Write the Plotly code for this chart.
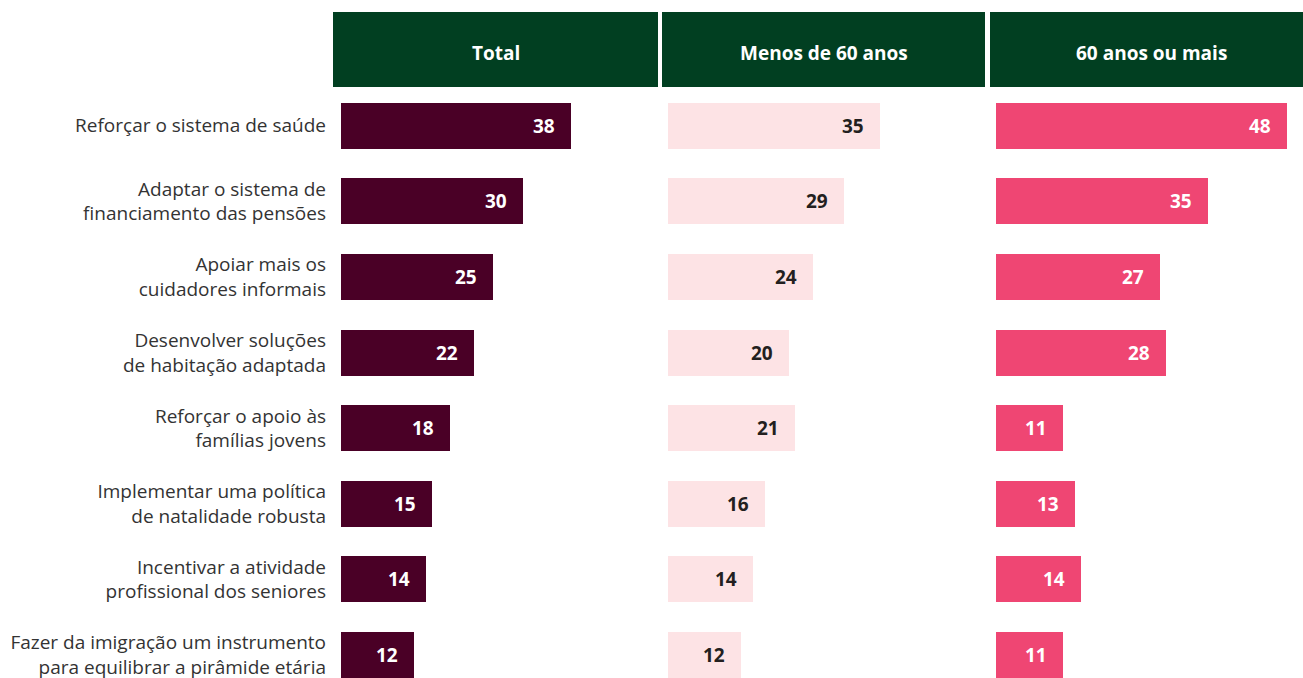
import plotly.graph_objects as go

categories = [
    "Reforçar o sistema de saúde",
    "Adaptar o sistema de<br>financiamento das pensões",
    "Apoiar mais os<br>cuidadores informais",
    "Desenvolver soluções<br>de habitação adaptada",
    "Reforçar o apoio às<br>famílias jovens",
    "Implementar uma política<br>de natalidade robusta",
    "Incentivar a atividade<br>profissional dos seniores",
    "Fazer da imigração um instrumento<br>para equilibrar a pirâmide etária",
]
panel_titles = ["Total", "Menos de 60 anos", "60 anos ou mais"]
total = [38, 30, 25, 22, 18, 15, 14, 12]
menos60 = [35, 29, 24, 20, 21, 16, 14, 12]
mais60 = [48, 35, 27, 28, 11, 13, 14, 11]

series = [total, menos60, mais60]
bar_colors = ["#4a0026", "#fde3e5", "#ef4673"]
text_colors = ["#ffffff", "#231f20", "#ffffff"]

W, H = 1303, 678
MT = 88
plot_h = H - MT
px_per_unit = 6.06
dom_px = [(341, 655), (668, 982), (996, 1303)]
head_px = [(333, 658), (662, 985), (990, 1313)]

fig = go.Figure()
ypos = list(range(len(categories)))

for k, vals in enumerate(series):
    axn = "" if k == 0 else str(k + 1)
    fig.add_trace(go.Bar(
        x=vals, y=ypos, orientation="h",
        marker=dict(color=bar_colors[k], line=dict(width=0)),
        width=0.61,
        xaxis="x" + axn, yaxis="y" + axn,
        hoverinfo="skip", showlegend=False,
    ))
    for i, v in enumerate(vals):
        fig.add_annotation(
            x=v, y=i, xref="x" + axn, yref="y" + axn,
            text="<b>%d</b>" % v, showarrow=False,
            xanchor="right", yanchor="middle", xshift=-14,
            font=dict(family="Open Sans", size=19, color=text_colors[k]),
        )

unit_px = 75.6
y_top = -0.5
y_bot = y_top + plot_h / unit_px

layout = dict(
    width=W, height=H,
    margin=dict(l=0, r=0, t=MT, b=0, pad=0),
    plot_bgcolor="white", paper_bgcolor="white",
    font=dict(family="Open Sans", color="#333333"),
    bargap=0,
)
for k in range(3):
    axn = "" if k == 0 else str(k + 1)
    d0, d1 = dom_px[k]
    rng = (d1 - d0) / px_per_unit
    layout["xaxis" + axn] = dict(
        domain=[d0 / W, d1 / W], range=[0, rng],
        showgrid=False, zeroline=False, showticklabels=False, showline=False,
        fixedrange=True,
    )
    yax = dict(
        domain=[0, 1], range=[y_bot, y_top],
        anchor="x" + axn,
        showgrid=False, zeroline=False, showline=False,
        tickvals=ypos, fixedrange=True,
    )
    if k == 0:
        yax.update(ticktext=categories, showticklabels=True, ticks="",
                   ticklabelstandoff=14, ticklabeloverflow="allow",
                   automargin=False,
                   tickfont=dict(family="Open Sans", size=19, color="#333333"))
    else:
        yax.update(showticklabels=False, matches="y")
    layout["yaxis" + axn] = yax

fig.update_layout(**layout)

for k in range(3):
    h0, h1 = head_px[k]
    fig.add_shape(
        type="rect", xref="paper", yref="paper",
        x0=h0 / W, x1=h1 / W,
        y0=1 + (MT - 87) / plot_h, y1=1 + (MT - 12) / plot_h,
        fillcolor="#013f21", line=dict(width=0), layer="below",
    )
    fig.add_annotation(
        x=(h0 + h1) / 2 / W, y=1 + (MT - 53) / plot_h,
        xref="paper", yref="paper", text="<b>%s</b>" % panel_titles[k],
        showarrow=False, xanchor="center", yanchor="middle",
        font=dict(family="Open Sans", size=19, color="#ffffff"),
    )

fig.write_html("out.html")
